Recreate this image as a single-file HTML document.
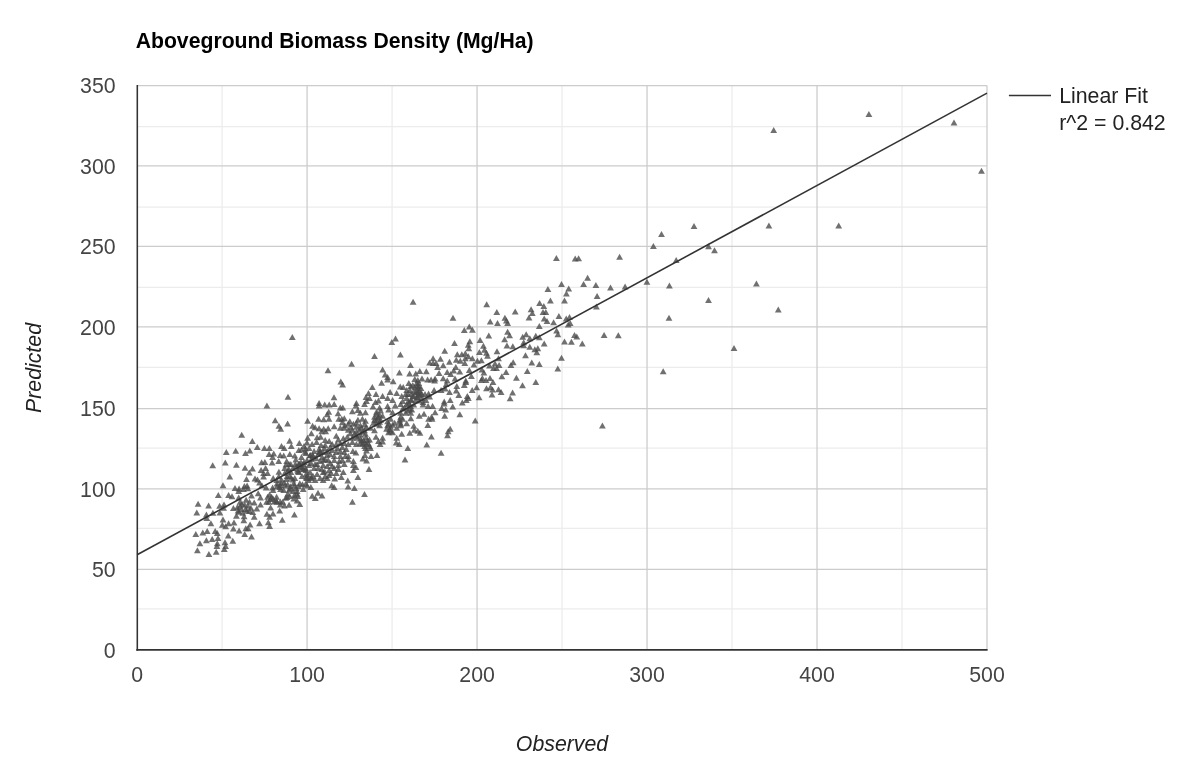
<!DOCTYPE html>
<html><head><meta charset="utf-8"><title>chart</title>
<style>
html,body{margin:0;padding:0;background:#fff;}
body{width:1200px;height:775px;position:relative;overflow:hidden;font-family:"Liberation Sans",sans-serif;color:#444;}
svg{position:absolute;left:0;top:0;}
.title{position:absolute;left:135.7px;top:28.5px;font-size:21.2px;font-weight:bold;color:#000;line-height:24px;white-space:nowrap;}
.yl{position:absolute;left:39.6px;width:76px;text-align:right;font-size:21.3px;line-height:24px;color:#444;}
.xl{position:absolute;top:663px;width:80px;text-align:center;font-size:21.3px;line-height:24px;color:#444;}
.xt{position:absolute;left:462px;top:732px;width:200px;text-align:center;font-size:21.3px;line-height:24px;font-style:italic;color:#222;}
.yt{position:absolute;left:-66px;top:355.5px;width:200px;text-align:center;font-size:21.3px;line-height:24px;font-style:italic;color:#222;transform:rotate(-90deg);}
.lg{position:absolute;left:1059.2px;top:83.2px;font-size:21.3px;line-height:27px;color:#222;white-space:nowrap;}
</style></head><body>
<svg width="1200" height="775" viewBox="0 0 1200 775">
<line x1="222.09" y1="85.56" x2="222.09" y2="649.83" stroke="#ececec" stroke-width="1.3"/>
<line x1="392.07" y1="85.56" x2="392.07" y2="649.83" stroke="#ececec" stroke-width="1.3"/>
<line x1="562.05" y1="85.56" x2="562.05" y2="649.83" stroke="#ececec" stroke-width="1.3"/>
<line x1="732.03" y1="85.56" x2="732.03" y2="649.83" stroke="#ececec" stroke-width="1.3"/>
<line x1="902.01" y1="85.56" x2="902.01" y2="649.83" stroke="#ececec" stroke-width="1.3"/>
<line x1="137.1" y1="126.60" x2="987.0" y2="126.60" stroke="#ececec" stroke-width="1.3"/>
<line x1="137.1" y1="207.10" x2="987.0" y2="207.10" stroke="#ececec" stroke-width="1.3"/>
<line x1="137.1" y1="287.30" x2="987.0" y2="287.30" stroke="#ececec" stroke-width="1.3"/>
<line x1="137.1" y1="367.40" x2="987.0" y2="367.40" stroke="#ececec" stroke-width="1.3"/>
<line x1="137.1" y1="448.10" x2="987.0" y2="448.10" stroke="#ececec" stroke-width="1.3"/>
<line x1="137.1" y1="528.40" x2="987.0" y2="528.40" stroke="#ececec" stroke-width="1.3"/>
<line x1="137.1" y1="608.90" x2="987.0" y2="608.90" stroke="#ececec" stroke-width="1.3"/>
<line x1="307.08" y1="85.56" x2="307.08" y2="649.83" stroke="#cccccc" stroke-width="1.3"/>
<line x1="477.06" y1="85.56" x2="477.06" y2="649.83" stroke="#cccccc" stroke-width="1.3"/>
<line x1="647.04" y1="85.56" x2="647.04" y2="649.83" stroke="#cccccc" stroke-width="1.3"/>
<line x1="817.02" y1="85.56" x2="817.02" y2="649.83" stroke="#cccccc" stroke-width="1.3"/>
<line x1="987.00" y1="85.56" x2="987.00" y2="649.83" stroke="#cccccc" stroke-width="1.3"/>
<line x1="137.1" y1="569.40" x2="987.0" y2="569.40" stroke="#cccccc" stroke-width="1.3"/>
<line x1="137.1" y1="488.92" x2="987.0" y2="488.92" stroke="#cccccc" stroke-width="1.3"/>
<line x1="137.1" y1="408.60" x2="987.0" y2="408.60" stroke="#cccccc" stroke-width="1.3"/>
<line x1="137.1" y1="326.85" x2="987.0" y2="326.85" stroke="#cccccc" stroke-width="1.3"/>
<line x1="137.1" y1="246.42" x2="987.0" y2="246.42" stroke="#cccccc" stroke-width="1.3"/>
<line x1="137.1" y1="165.92" x2="987.0" y2="165.92" stroke="#cccccc" stroke-width="1.3"/>
<line x1="137.1" y1="85.56" x2="987.0" y2="85.56" stroke="#cccccc" stroke-width="1.3"/>
<g fill="#4a4a4a" fill-opacity="0.79"><path d="M194.7 506.7L198.1 500.7L201.5 506.7Z"/><path d="M205.2 508.5L208.6 502.5L212.0 508.5Z"/><path d="M193.4 515.5L196.8 509.5L200.2 515.5Z"/><path d="M214.9 498.0L218.3 492.0L221.7 498.0Z"/><path d="M219.6 488.2L223.0 482.2L226.4 488.2Z"/><path d="M225.2 498.0L228.6 492.0L232.0 498.0Z"/><path d="M216.2 508.8L219.6 502.8L223.0 508.8Z"/><path d="M220.6 507.4L224.0 501.4L227.4 507.4Z"/><path d="M220.2 510.8L223.6 504.8L227.0 510.8Z"/><path d="M209.5 515.7L212.9 509.7L216.3 515.7Z"/><path d="M216.5 515.5L219.9 509.5L223.3 515.5Z"/><path d="M203.0 517.5L206.4 511.5L209.8 517.5Z"/><path d="M203.4 521.1L206.8 515.1L210.2 521.1Z"/><path d="M207.5 526.2L210.9 520.2L214.3 526.2Z"/><path d="M219.6 522.5L223.0 516.5L226.4 522.5Z"/><path d="M218.9 527.8L222.3 521.8L225.7 527.8Z"/><path d="M222.2 529.3L225.6 523.3L229.0 529.3Z"/><path d="M225.2 526.2L228.6 520.2L232.0 526.2Z"/><path d="M241.3 536.9L244.7 530.9L248.1 536.9Z"/><path d="M248.1 539.6L251.5 533.6L254.9 539.6Z"/><path d="M192.4 536.9L195.8 530.9L199.2 536.9Z"/><path d="M199.4 535.6L202.8 529.6L206.2 535.6Z"/><path d="M203.8 534.0L207.2 528.0L210.6 534.0Z"/><path d="M211.8 534.0L215.2 528.0L218.6 534.0Z"/><path d="M213.9 535.9L217.3 529.9L220.7 535.9Z"/><path d="M214.6 541.0L218.0 535.0L221.4 541.0Z"/><path d="M208.8 542.0L212.2 536.0L215.6 542.0Z"/><path d="M203.0 543.3L206.4 537.3L209.8 543.3Z"/><path d="M196.5 546.3L199.9 540.3L203.3 546.3Z"/><path d="M194.0 553.3L197.4 547.3L200.8 553.3Z"/><path d="M205.5 557.1L208.9 551.1L212.3 557.1Z"/><path d="M212.8 554.7L216.2 548.7L219.6 554.7Z"/><path d="M213.9 546.3L217.3 540.3L220.7 546.3Z"/><path d="M213.5 549.0L216.9 543.0L220.3 549.0Z"/><path d="M221.6 545.3L225.0 539.3L228.4 545.3Z"/><path d="M222.2 549.0L225.6 543.0L229.0 549.0Z"/><path d="M220.9 552.0L224.3 546.0L227.7 552.0Z"/><path d="M224.9 538.6L228.3 532.6L231.7 538.6Z"/><path d="M229.4 543.7L232.8 537.7L236.2 543.7Z"/><path d="M307.5 490.0L310.9 484.0L314.3 490.0Z"/><path d="M308.8 498.7L312.2 492.7L315.6 498.7Z"/><path d="M311.9 501.1L315.3 495.1L318.7 501.1Z"/><path d="M314.6 495.7L318.0 489.7L321.4 495.7Z"/><path d="M318.6 498.4L322.0 492.4L325.4 498.4Z"/><path d="M328.3 488.2L331.7 482.2L335.1 488.2Z"/><path d="M330.7 490.0L334.1 484.0L337.5 490.0Z"/><path d="M231.6 491.1L235.0 485.1L238.4 491.1Z"/><path d="M235.7 491.4L239.1 485.4L242.5 491.4Z"/><path d="M241.0 489.1L244.4 483.1L247.8 489.1Z"/><path d="M243.7 488.6L247.1 482.6L250.5 488.6Z"/><path d="M244.4 491.3L247.8 485.3L251.2 491.3Z"/><path d="M240.0 492.0L243.4 486.0L246.8 492.0Z"/><path d="M235.3 494.0L238.7 488.0L242.1 494.0Z"/><path d="M256.1 485.6L259.5 479.6L262.9 485.6Z"/><path d="M258.5 488.3L261.9 482.3L265.3 488.3Z"/><path d="M262.8 490.6L266.2 484.6L269.6 490.6Z"/><path d="M269.2 490.6L272.6 484.6L276.0 490.6Z"/><path d="M269.6 493.0L273.0 487.0L276.4 493.0Z"/><path d="M273.6 486.6L277.0 480.6L280.4 486.6Z"/><path d="M276.9 488.0L280.3 482.0L283.7 488.0Z"/><path d="M276.3 490.0L279.7 484.0L283.1 490.0Z"/><path d="M280.3 493.0L283.7 487.0L287.1 493.0Z"/><path d="M284.3 487.3L287.7 481.3L291.1 487.3Z"/><path d="M285.7 492.7L289.1 486.7L292.5 492.7Z"/><path d="M292.7 491.0L296.1 485.0L299.5 491.0Z"/><path d="M293.7 494.0L297.1 488.0L300.5 494.0Z"/><path d="M299.8 492.0L303.2 486.0L306.6 492.0Z"/><path d="M290.4 485.9L293.8 479.9L297.2 485.9Z"/><path d="M296.4 486.3L299.8 480.3L303.2 486.3Z"/><path d="M302.4 486.6L305.8 480.6L309.2 486.6Z"/><path d="M228.6 499.2L232.0 493.2L235.4 499.2Z"/><path d="M235.3 500.5L238.7 494.5L242.1 500.5Z"/><path d="M248.1 498.4L251.5 492.4L254.9 498.4Z"/><path d="M254.8 496.3L258.2 490.3L261.6 496.3Z"/><path d="M257.1 500.5L260.5 494.5L263.9 500.5Z"/><path d="M242.7 502.7L246.1 496.7L249.5 502.7Z"/><path d="M236.7 504.7L240.1 498.7L243.5 504.7Z"/><path d="M266.2 497.4L269.6 491.4L273.0 497.4Z"/><path d="M264.2 499.7L267.6 493.7L271.0 499.7Z"/><path d="M268.2 499.7L271.6 493.7L275.0 499.7Z"/><path d="M273.2 499.8L276.6 493.8L280.0 499.8Z"/><path d="M263.2 504.7L266.6 498.7L270.0 504.7Z"/><path d="M270.9 504.4L274.3 498.4L277.7 504.4Z"/><path d="M276.9 504.5L280.3 498.5L283.7 504.5Z"/><path d="M276.9 507.4L280.3 501.4L283.7 507.4Z"/><path d="M284.3 496.7L287.7 490.7L291.1 496.7Z"/><path d="M282.3 500.7L285.7 494.7L289.1 500.7Z"/><path d="M286.3 499.0L289.7 493.0L293.1 499.0Z"/><path d="M291.0 498.0L294.4 492.0L297.8 498.0Z"/><path d="M294.4 499.0L297.8 493.0L301.2 499.0Z"/><path d="M290.4 501.4L293.8 495.4L297.2 501.4Z"/><path d="M293.7 503.4L297.1 497.4L300.5 503.4Z"/><path d="M296.4 507.1L299.8 501.1L303.2 507.1Z"/><path d="M285.7 507.8L289.1 501.8L292.5 507.8Z"/><path d="M281.0 508.4L284.4 502.4L287.8 508.4Z"/><path d="M250.8 505.5L254.2 499.5L257.6 505.5Z"/><path d="M257.1 507.4L260.5 501.4L263.9 507.4Z"/><path d="M244.7 508.8L248.1 502.8L251.5 508.8Z"/><path d="M253.4 511.4L256.8 505.4L260.2 511.4Z"/><path d="M267.2 510.4L270.6 504.4L274.0 510.4Z"/><path d="M276.3 513.6L279.7 507.6L283.1 513.6Z"/><path d="M291.0 517.5L294.4 511.5L297.8 517.5Z"/><path d="M278.9 522.7L282.3 516.7L285.7 522.7Z"/><path d="M230.0 511.1L233.4 505.1L236.8 511.1Z"/><path d="M234.0 510.1L237.4 504.1L240.8 510.1Z"/><path d="M238.0 512.1L241.4 506.1L244.8 512.1Z"/><path d="M235.3 514.8L238.7 508.8L242.1 514.8Z"/><path d="M243.4 513.8L246.8 507.8L250.2 513.8Z"/><path d="M249.4 515.1L252.8 509.1L256.2 515.1Z"/><path d="M239.4 515.8L242.8 509.8L246.2 515.8Z"/><path d="M233.0 518.8L236.4 512.8L239.8 518.8Z"/><path d="M240.7 519.2L244.1 513.2L247.5 519.2Z"/><path d="M240.4 523.2L243.8 517.2L247.2 523.2Z"/><path d="M250.8 519.8L254.2 513.8L257.6 519.8Z"/><path d="M263.5 516.8L266.9 510.8L270.3 516.8Z"/><path d="M269.6 516.6L273.0 510.6L276.4 516.6Z"/><path d="M266.2 519.8L269.6 513.8L273.0 519.8Z"/><path d="M264.9 525.2L268.3 519.2L271.7 525.2Z"/><path d="M266.2 528.9L269.6 522.9L273.0 528.9Z"/><path d="M256.1 526.2L259.5 520.2L262.9 526.2Z"/><path d="M246.7 527.6L250.1 521.6L253.5 527.6Z"/><path d="M230.6 525.5L234.0 519.5L237.4 525.5Z"/><path d="M230.0 531.6L233.4 525.6L236.8 531.6Z"/><path d="M235.7 533.6L239.1 527.6L242.5 533.6Z"/><path d="M242.4 531.2L245.8 525.2L249.2 531.2Z"/><path d="M244.7 531.2L248.1 525.2L251.5 531.2Z"/><path d="M238.7 506.7L242.1 500.7L245.5 506.7Z"/><path d="M241.4 507.8L244.8 501.8L248.2 507.8Z"/><path d="M246.1 504.7L249.5 498.7L252.9 504.7Z"/><path d="M247.4 510.8L250.8 504.8L254.2 510.8Z"/><path d="M236.7 508.8L240.1 502.8L243.5 508.8Z"/><path d="M242.0 512.1L245.4 506.1L248.8 512.1Z"/><path d="M246.1 514.1L249.5 508.1L252.9 514.1Z"/><path d="M234.7 513.5L238.1 507.5L241.5 513.5Z"/><path d="M266.9 502.0L270.3 496.0L273.7 502.0Z"/><path d="M272.9 503.4L276.3 497.4L279.7 503.4Z"/><path d="M265.5 504.7L268.9 498.7L272.3 504.7Z"/><path d="M269.6 501.4L273.0 495.4L276.4 501.4Z"/><path d="M273.6 504.7L277.0 498.7L280.4 504.7Z"/><path d="M273.6 489.3L277.0 483.3L280.4 489.3Z"/><path d="M277.6 485.9L281.0 479.9L284.4 485.9Z"/><path d="M281.6 488.6L285.0 482.6L288.4 488.6Z"/><path d="M287.0 489.3L290.4 483.3L293.8 489.3Z"/><path d="M291.0 488.6L294.4 482.6L297.8 488.6Z"/><path d="M295.1 489.3L298.5 483.3L301.9 489.3Z"/><path d="M299.1 487.3L302.5 481.3L305.9 487.3Z"/><path d="M303.8 488.6L307.2 482.6L310.6 488.6Z"/><path d="M287.0 491.3L290.4 485.3L293.8 491.3Z"/><path d="M289.7 494.0L293.1 488.0L296.5 494.0Z"/><path d="M293.7 496.7L297.1 490.7L300.5 496.7Z"/><path d="M283.6 500.0L287.0 494.0L290.4 500.0Z"/><path d="M263.5 408.4L266.9 402.4L270.3 408.4Z"/><path d="M271.8 423.2L275.2 417.2L278.6 423.2Z"/><path d="M284.2 426.4L287.6 420.4L291.0 426.4Z"/><path d="M275.5 428.8L278.9 422.8L282.3 428.8Z"/><path d="M277.3 431.8L280.7 425.8L284.1 431.8Z"/><path d="M238.3 437.8L241.7 431.8L245.1 437.8Z"/><path d="M248.9 444.1L252.3 438.1L255.7 444.1Z"/><path d="M286.2 443.7L289.6 437.7L293.0 443.7Z"/><path d="M253.9 449.9L257.3 443.9L260.7 449.9Z"/><path d="M261.0 450.9L264.4 444.9L267.8 450.9Z"/><path d="M266.0 451.1L269.4 445.1L272.8 451.1Z"/><path d="M278.1 449.1L281.5 443.1L284.9 449.1Z"/><path d="M280.8 450.9L284.2 444.9L287.6 450.9Z"/><path d="M287.9 448.9L291.3 442.9L294.7 448.9Z"/><path d="M222.9 455.1L226.3 449.1L229.7 455.1Z"/><path d="M232.3 453.7L235.7 447.7L239.1 453.7Z"/><path d="M246.4 453.4L249.8 447.4L253.2 453.4Z"/><path d="M242.1 456.1L245.5 450.1L248.9 456.1Z"/><path d="M209.3 468.3L212.7 462.3L216.1 468.3Z"/><path d="M221.9 465.5L225.3 459.5L228.7 465.5Z"/><path d="M233.0 467.8L236.4 461.8L239.8 467.8Z"/><path d="M241.6 470.7L245.0 464.7L248.4 470.7Z"/><path d="M249.1 471.4L252.5 465.4L255.9 471.4Z"/><path d="M245.9 475.6L249.3 469.6L252.7 475.6Z"/><path d="M226.4 479.6L229.8 473.6L233.2 479.6Z"/><path d="M265.7 457.0L269.1 451.0L272.5 457.0Z"/><path d="M270.3 456.4L273.7 450.4L277.1 456.4Z"/><path d="M269.2 460.0L272.6 454.0L276.0 460.0Z"/><path d="M276.8 458.0L280.2 452.0L283.6 458.0Z"/><path d="M280.3 458.5L283.7 452.5L287.1 458.5Z"/><path d="M286.4 457.0L289.8 451.0L293.2 457.0Z"/><path d="M291.4 458.5L294.8 452.5L298.2 458.5Z"/><path d="M295.4 452.9L298.8 446.9L302.2 452.9Z"/><path d="M258.2 465.3L261.6 459.3L265.0 465.3Z"/><path d="M261.5 465.0L264.9 459.0L268.3 465.0Z"/><path d="M268.7 465.5L272.1 459.5L275.5 465.5Z"/><path d="M275.3 464.0L278.7 458.0L282.1 464.0Z"/><path d="M283.3 464.0L286.7 458.0L290.1 464.0Z"/><path d="M287.4 467.0L290.8 461.0L294.2 467.0Z"/><path d="M292.4 462.5L295.8 456.5L299.2 462.5Z"/><path d="M257.7 473.1L261.1 467.1L264.5 473.1Z"/><path d="M262.2 471.1L265.6 465.1L269.0 471.1Z"/><path d="M260.2 476.1L263.6 470.1L267.0 476.1Z"/><path d="M264.2 476.1L267.6 470.1L271.0 476.1Z"/><path d="M260.2 479.6L263.6 473.6L267.0 479.6Z"/><path d="M243.1 482.1L246.5 476.1L249.9 482.1Z"/><path d="M251.6 481.6L255.0 475.6L258.4 481.6Z"/><path d="M254.1 482.6L257.5 476.6L260.9 482.6Z"/><path d="M269.8 481.1L273.2 475.1L276.6 481.1Z"/><path d="M273.3 483.1L276.7 477.1L280.1 483.1Z"/><path d="M281.3 471.1L284.7 465.1L288.1 471.1Z"/><path d="M285.4 472.1L288.8 466.1L292.2 472.1Z"/><path d="M289.4 471.1L292.8 465.1L296.2 471.1Z"/><path d="M281.3 476.1L284.7 470.1L288.1 476.1Z"/><path d="M286.4 479.1L289.8 473.1L293.2 479.1Z"/><path d="M291.4 481.1L294.8 475.1L298.2 481.1Z"/><path d="M283.3 482.1L286.7 476.1L290.1 482.1Z"/><path d="M295.4 467.0L298.8 461.0L302.2 467.0Z"/><path d="M295.4 475.1L298.8 469.1L302.2 475.1Z"/><path d="M295.9 445.9L299.3 439.9L302.7 445.9Z"/><path d="M315.7 408.6L319.1 402.6L322.5 408.6Z"/><path d="M321.3 407.6L324.7 401.6L328.1 407.6Z"/><path d="M325.8 407.6L329.2 401.6L332.6 407.6Z"/><path d="M330.8 407.1L334.2 401.1L337.6 407.1Z"/><path d="M336.9 410.6L340.3 404.6L343.7 410.6Z"/><path d="M339.4 410.6L342.8 404.6L346.2 410.6Z"/><path d="M352.5 408.6L355.9 402.6L359.3 408.6Z"/><path d="M361.1 407.1L364.5 401.1L367.9 407.1Z"/><path d="M369.6 409.6L373.0 403.6L376.4 409.6Z"/><path d="M376.2 410.6L379.6 404.6L383.0 410.6Z"/><path d="M384.2 409.1L387.6 403.1L391.0 409.1Z"/><path d="M391.8 408.6L395.2 402.6L398.6 408.6Z"/><path d="M397.3 407.1L400.7 401.1L404.1 407.1Z"/><path d="M403.3 407.1L406.7 401.1L410.1 407.1Z"/><path d="M410.4 407.6L413.8 401.6L417.2 407.6Z"/><path d="M325.3 414.7L328.7 408.7L332.1 414.7Z"/><path d="M323.8 417.2L327.2 411.2L330.6 417.2Z"/><path d="M334.7 416.2L338.1 410.2L341.5 416.2Z"/><path d="M349.0 414.2L352.4 408.2L355.8 414.2Z"/><path d="M354.5 413.1L357.9 407.1L361.3 413.1Z"/><path d="M357.0 415.7L360.4 409.7L363.8 415.7Z"/><path d="M362.1 415.2L365.5 409.2L368.9 415.2Z"/><path d="M373.1 414.7L376.5 408.7L379.9 414.7Z"/><path d="M377.2 413.6L380.6 407.6L384.0 413.6Z"/><path d="M385.2 412.6L388.6 406.6L392.0 412.6Z"/><path d="M389.2 415.2L392.6 409.2L396.0 415.2Z"/><path d="M399.3 411.6L402.7 405.6L406.1 411.6Z"/><path d="M404.4 413.6L407.8 407.6L411.2 413.6Z"/><path d="M408.4 412.6L411.8 406.6L415.2 412.6Z"/><path d="M415.9 418.7L419.3 412.7L422.7 418.7Z"/><path d="M304.2 423.7L307.6 417.7L311.0 423.7Z"/><path d="M315.2 421.7L318.6 415.7L322.0 421.7Z"/><path d="M320.3 422.2L323.7 416.2L327.1 422.2Z"/><path d="M325.6 421.7L329.0 415.7L332.4 421.7Z"/><path d="M335.4 421.7L338.8 415.7L342.2 421.7Z"/><path d="M338.4 421.7L341.8 415.7L345.2 421.7Z"/><path d="M340.9 421.2L344.3 415.2L347.7 421.2Z"/><path d="M346.4 424.2L349.8 418.2L353.2 424.2Z"/><path d="M338.9 425.2L342.3 419.2L345.7 425.2Z"/><path d="M354.5 422.7L357.9 416.7L361.3 422.7Z"/><path d="M359.0 421.7L362.4 415.7L365.8 421.7Z"/><path d="M362.1 423.7L365.5 417.7L368.9 423.7Z"/><path d="M371.1 419.7L374.5 413.7L377.9 419.7Z"/><path d="M375.1 419.7L378.5 413.7L381.9 419.7Z"/><path d="M373.1 423.2L376.5 417.2L379.9 423.2Z"/><path d="M377.2 422.7L380.6 416.7L384.0 422.7Z"/><path d="M384.2 424.2L387.6 418.2L391.0 424.2Z"/><path d="M387.2 421.7L390.6 415.7L394.0 421.7Z"/><path d="M397.3 419.7L400.7 413.7L404.1 419.7Z"/><path d="M399.3 421.7L402.7 415.7L406.1 421.7Z"/><path d="M407.4 421.2L410.8 415.2L414.2 421.2Z"/><path d="M396.3 424.7L399.7 418.7L403.1 424.7Z"/><path d="M403.3 426.2L406.7 420.2L410.1 426.2Z"/><path d="M370.1 425.7L373.5 419.7L376.9 425.7Z"/><path d="M309.2 428.8L312.6 422.8L316.0 428.8Z"/><path d="M311.7 430.3L315.1 424.3L318.5 430.3Z"/><path d="M315.7 431.3L319.1 425.3L322.5 431.3Z"/><path d="M320.3 431.8L323.7 425.8L327.1 431.8Z"/><path d="M322.3 434.3L325.7 428.3L329.1 434.3Z"/><path d="M318.3 434.3L321.7 428.3L325.1 434.3Z"/><path d="M324.8 431.3L328.2 425.3L331.6 431.3Z"/><path d="M330.8 429.3L334.2 423.3L337.6 429.3Z"/><path d="M336.9 430.8L340.3 424.8L343.7 430.8Z"/><path d="M341.4 428.3L344.8 422.3L348.2 428.3Z"/><path d="M340.9 430.8L344.3 424.8L347.7 430.8Z"/><path d="M347.5 430.3L350.9 424.3L354.3 430.3Z"/><path d="M353.0 429.8L356.4 423.8L359.8 429.8Z"/><path d="M357.0 428.3L360.4 422.3L363.8 428.3Z"/><path d="M361.1 427.2L364.5 421.2L367.9 427.2Z"/><path d="M363.1 429.8L366.5 423.8L369.9 429.8Z"/><path d="M356.0 432.8L359.4 426.8L362.8 432.8Z"/><path d="M361.1 433.3L364.5 427.3L367.9 433.3Z"/><path d="M367.1 430.8L370.5 424.8L373.9 430.8Z"/><path d="M371.1 433.3L374.5 427.3L377.9 433.3Z"/><path d="M376.2 428.3L379.6 422.3L383.0 428.3Z"/><path d="M384.2 428.3L387.6 422.3L391.0 428.3Z"/><path d="M389.2 427.7L392.6 421.7L396.0 427.7Z"/><path d="M393.3 430.8L396.7 424.8L400.1 430.8Z"/><path d="M397.3 428.3L400.7 422.3L404.1 428.3Z"/><path d="M386.2 432.3L389.6 426.3L393.0 432.3Z"/><path d="M385.2 435.3L388.6 429.3L392.0 435.3Z"/><path d="M389.2 435.3L392.6 429.3L396.0 435.3Z"/><path d="M410.4 428.8L413.8 422.8L417.2 428.8Z"/><path d="M410.9 432.8L414.3 426.8L417.7 432.8Z"/><path d="M414.4 433.8L417.8 427.8L421.2 433.8Z"/><path d="M406.4 435.8L409.8 429.8L413.2 435.8Z"/><path d="M398.3 436.8L401.7 430.8L405.1 436.8Z"/><path d="M308.0 436.3L311.4 430.3L314.8 436.3Z"/><path d="M304.2 440.8L307.6 434.8L311.0 440.8Z"/><path d="M313.7 440.3L317.1 434.3L320.5 440.3Z"/><path d="M317.2 439.8L320.6 433.8L324.0 439.8Z"/><path d="M321.8 442.9L325.2 436.9L328.6 442.9Z"/><path d="M325.8 443.9L329.2 437.9L332.6 443.9Z"/><path d="M332.9 438.8L336.3 432.8L339.7 438.8Z"/><path d="M334.9 442.4L338.3 436.4L341.7 442.4Z"/><path d="M339.9 441.3L343.3 435.3L346.7 441.3Z"/><path d="M347.0 436.3L350.4 430.3L353.8 436.3Z"/><path d="M351.0 436.8L354.4 430.8L357.8 436.8Z"/><path d="M354.0 440.8L357.4 434.8L360.8 440.8Z"/><path d="M357.0 437.8L360.4 431.8L363.8 437.8Z"/><path d="M362.6 440.3L366.0 434.3L369.4 440.3Z"/><path d="M366.1 442.4L369.5 436.4L372.9 442.4Z"/><path d="M372.6 439.8L376.0 433.8L379.4 439.8Z"/><path d="M379.2 440.8L382.6 434.8L386.0 440.8Z"/><path d="M375.1 443.9L378.5 437.9L381.9 443.9Z"/><path d="M379.2 444.4L382.6 438.4L386.0 444.4Z"/><path d="M376.7 446.9L380.1 440.9L383.5 446.9Z"/><path d="M393.3 440.8L396.7 434.8L400.1 440.8Z"/><path d="M392.8 445.4L396.2 439.4L399.6 445.4Z"/><path d="M395.8 446.9L399.2 440.9L402.6 446.9Z"/><path d="M303.6 445.4L307.0 439.4L310.4 445.4Z"/><path d="M308.7 446.9L312.1 440.9L315.5 446.9Z"/><path d="M313.2 444.9L316.6 438.9L320.0 444.9Z"/><path d="M317.7 447.9L321.1 441.9L324.5 447.9Z"/><path d="M321.8 447.9L325.2 441.9L328.6 447.9Z"/><path d="M328.8 446.9L332.2 440.9L335.6 446.9Z"/><path d="M332.9 446.9L336.3 440.9L339.7 446.9Z"/><path d="M336.9 445.9L340.3 439.9L343.7 445.9Z"/><path d="M340.9 445.9L344.3 439.9L347.7 445.9Z"/><path d="M344.9 446.9L348.3 440.9L351.7 446.9Z"/><path d="M349.0 444.9L352.4 438.9L355.8 444.9Z"/><path d="M353.0 446.9L356.4 440.9L359.8 446.9Z"/><path d="M357.0 445.9L360.4 439.9L363.8 445.9Z"/><path d="M361.1 444.9L364.5 438.9L367.9 444.9Z"/><path d="M365.1 446.4L368.5 440.4L371.9 446.4Z"/><path d="M361.1 448.9L364.5 442.9L367.9 448.9Z"/><path d="M367.1 450.9L370.5 444.9L373.9 450.9Z"/><path d="M404.4 450.9L407.8 444.9L411.2 450.9Z"/><path d="M298.1 452.4L301.5 446.4L304.9 452.4Z"/><path d="M310.7 453.9L314.1 447.9L317.5 453.9Z"/><path d="M306.7 458.0L310.1 452.0L313.5 458.0Z"/><path d="M315.7 451.9L319.1 445.9L322.5 451.9Z"/><path d="M319.8 454.9L323.2 448.9L326.6 454.9Z"/><path d="M323.8 458.0L327.2 452.0L330.6 458.0Z"/><path d="M328.8 452.9L332.2 446.9L335.6 452.9Z"/><path d="M332.9 454.9L336.3 448.9L339.7 454.9Z"/><path d="M336.9 453.9L340.3 447.9L343.7 453.9Z"/><path d="M340.9 454.9L344.3 448.9L347.7 454.9Z"/><path d="M344.9 459.0L348.3 453.0L351.7 459.0Z"/><path d="M336.9 459.0L340.3 453.0L343.7 459.0Z"/><path d="M330.8 459.0L334.2 453.0L337.6 459.0Z"/><path d="M349.5 453.9L352.9 447.9L356.3 453.9Z"/><path d="M352.5 455.4L355.9 449.4L359.3 455.4Z"/><path d="M363.1 453.4L366.5 447.4L369.9 453.4Z"/><path d="M361.6 458.0L365.0 452.0L368.4 458.0Z"/><path d="M367.6 459.0L371.0 453.0L374.4 459.0Z"/><path d="M373.6 458.0L377.0 452.0L380.4 458.0Z"/><path d="M359.5 461.5L362.9 455.5L366.3 461.5Z"/><path d="M363.1 463.5L366.5 457.5L369.9 463.5Z"/><path d="M401.6 462.5L405.0 456.5L408.4 462.5Z"/><path d="M298.1 460.0L301.5 454.0L304.9 460.0Z"/><path d="M303.6 463.0L307.0 457.0L310.4 463.0Z"/><path d="M307.7 466.0L311.1 460.0L314.5 466.0Z"/><path d="M312.7 461.0L316.1 455.0L319.5 461.0Z"/><path d="M316.7 464.0L320.1 458.0L323.5 464.0Z"/><path d="M321.8 462.0L325.2 456.0L328.6 462.0Z"/><path d="M326.8 466.0L330.2 460.0L333.6 466.0Z"/><path d="M330.8 463.0L334.2 457.0L337.6 463.0Z"/><path d="M335.9 464.0L339.3 458.0L342.7 464.0Z"/><path d="M340.9 467.0L344.3 461.0L347.7 467.0Z"/><path d="M344.9 462.5L348.3 456.5L351.7 462.5Z"/><path d="M350.0 464.0L353.4 458.0L356.8 464.0Z"/><path d="M350.0 468.0L353.4 462.0L356.8 468.0Z"/><path d="M352.5 470.0L355.9 464.0L359.3 470.0Z"/><path d="M298.6 470.0L302.0 464.0L305.4 470.0Z"/><path d="M302.6 473.1L306.0 467.1L309.4 473.1Z"/><path d="M306.7 475.1L310.1 469.1L313.5 475.1Z"/><path d="M310.7 471.1L314.1 465.1L317.5 471.1Z"/><path d="M318.3 472.1L321.7 466.1L325.1 472.1Z"/><path d="M319.8 475.1L323.2 469.1L326.6 475.1Z"/><path d="M325.8 473.1L329.2 467.1L332.6 473.1Z"/><path d="M330.8 471.1L334.2 465.1L337.6 471.1Z"/><path d="M332.9 476.1L336.3 470.1L339.7 476.1Z"/><path d="M339.9 475.1L343.3 469.1L346.7 475.1Z"/><path d="M350.0 473.1L353.4 467.1L356.8 473.1Z"/><path d="M365.6 472.1L369.0 466.1L372.4 472.1Z"/><path d="M298.6 479.1L302.0 473.1L305.4 479.1Z"/><path d="M303.6 481.1L307.0 475.1L310.4 481.1Z"/><path d="M309.7 479.1L313.1 473.1L316.5 479.1Z"/><path d="M311.7 483.1L315.1 477.1L318.5 483.1Z"/><path d="M321.8 479.1L325.2 473.1L328.6 479.1Z"/><path d="M325.8 478.1L329.2 472.1L332.6 478.1Z"/><path d="M319.8 483.1L323.2 477.1L326.6 483.1Z"/><path d="M331.3 481.6L334.7 475.6L338.1 481.6Z"/><path d="M337.9 480.1L341.3 474.1L344.7 480.1Z"/><path d="M344.4 483.6L347.8 477.6L351.2 483.6Z"/><path d="M354.5 479.9L357.9 473.9L361.3 479.9Z"/><path d="M344.7 489.6L348.1 483.6L351.5 489.6Z"/><path d="M351.0 491.1L354.4 485.1L357.8 491.1Z"/><path d="M361.1 496.9L364.5 490.9L367.9 496.9Z"/><path d="M349.0 504.7L352.4 498.7L355.8 504.7Z"/><path d="M392.1 341.5L395.5 335.5L398.9 341.5Z"/><path d="M388.4 344.9L391.8 338.9L395.2 344.9Z"/><path d="M371.1 359.1L374.5 353.1L377.9 359.1Z"/><path d="M397.0 357.6L400.4 351.6L403.8 357.6Z"/><path d="M348.2 366.7L351.6 360.7L355.0 366.7Z"/><path d="M407.1 368.1L410.5 362.1L413.9 368.1Z"/><path d="M324.6 373.2L328.0 367.2L331.4 373.2Z"/><path d="M379.2 372.6L382.6 366.6L386.0 372.6Z"/><path d="M381.7 377.4L385.1 371.4L388.5 377.4Z"/><path d="M384.2 380.0L387.6 374.0L391.0 380.0Z"/><path d="M384.2 382.5L387.6 376.5L391.0 382.5Z"/><path d="M396.0 375.6L399.4 369.6L402.8 375.6Z"/><path d="M406.2 376.4L409.6 370.4L413.0 376.4Z"/><path d="M412.4 376.4L415.8 370.4L419.2 376.4Z"/><path d="M416.4 373.9L419.8 367.9L423.2 373.9Z"/><path d="M389.8 384.3L393.2 378.3L396.6 384.3Z"/><path d="M378.2 385.8L381.6 379.8L385.0 385.8Z"/><path d="M337.4 384.5L340.8 378.5L344.2 384.5Z"/><path d="M339.2 387.5L342.6 381.5L346.0 387.5Z"/><path d="M368.9 390.0L372.3 384.0L375.7 390.0Z"/><path d="M396.8 389.5L400.2 383.5L403.6 389.5Z"/><path d="M399.8 390.0L403.2 384.0L406.6 390.0Z"/><path d="M407.4 389.0L410.8 383.0L414.2 389.0Z"/><path d="M411.4 382.0L414.8 376.0L418.2 382.0Z"/><path d="M414.4 383.0L417.8 377.0L421.2 383.0Z"/><path d="M411.4 390.0L414.8 384.0L418.2 390.0Z"/><path d="M415.4 389.0L418.8 383.0L422.2 389.0Z"/><path d="M330.6 400.3L334.0 394.3L337.4 400.3Z"/><path d="M365.1 395.9L368.5 389.9L371.9 395.9Z"/><path d="M362.6 400.1L366.0 394.1L369.4 400.1Z"/><path d="M366.1 401.1L369.5 395.1L372.9 401.1Z"/><path d="M372.6 397.1L376.0 391.1L379.4 397.1Z"/><path d="M379.2 399.1L382.6 393.1L386.0 399.1Z"/><path d="M386.7 395.1L390.1 389.1L393.5 395.1Z"/><path d="M393.3 395.9L396.7 389.9L400.1 395.9Z"/><path d="M384.2 401.1L387.6 395.1L391.0 401.1Z"/><path d="M389.2 403.1L392.6 397.1L396.0 403.1Z"/><path d="M375.1 403.6L378.5 397.6L381.9 403.6Z"/><path d="M372.1 405.1L375.5 399.1L378.9 405.1Z"/><path d="M363.1 404.1L366.5 398.1L369.9 404.1Z"/><path d="M398.3 399.1L401.7 393.1L405.1 399.1Z"/><path d="M402.3 397.1L405.7 391.1L409.1 397.1Z"/><path d="M407.4 397.1L410.8 391.1L414.2 397.1Z"/><path d="M412.4 395.1L415.8 389.1L419.2 395.1Z"/><path d="M415.4 398.1L418.8 392.1L422.2 398.1Z"/><path d="M407.4 403.1L410.8 397.1L414.2 403.1Z"/><path d="M412.4 403.1L415.8 397.1L419.2 403.1Z"/><path d="M399.3 404.1L402.7 398.1L406.1 404.1Z"/><path d="M415.9 403.6L419.3 397.6L422.7 403.6Z"/><path d="M353.0 406.1L356.4 400.1L359.8 406.1Z"/><path d="M315.7 406.1L319.1 400.1L322.5 406.1Z"/><path d="M403.3 393.1L406.7 387.1L410.1 393.1Z"/><path d="M415.4 393.1L418.8 387.1L422.2 393.1Z"/><path d="M460.9 333.1L464.3 327.1L467.7 333.1Z"/><path d="M465.9 329.6L469.3 323.6L472.7 329.6Z"/><path d="M469.0 332.8L472.4 326.8L475.8 332.8Z"/><path d="M535.9 329.1L539.3 323.1L542.7 329.1Z"/><path d="M485.4 338.4L488.8 332.4L492.2 338.4Z"/><path d="M504.2 334.8L507.6 328.8L511.0 334.8Z"/><path d="M506.2 338.2L509.6 332.2L513.0 338.2Z"/><path d="M501.2 342.2L504.6 336.2L508.0 342.2Z"/><path d="M522.8 337.2L526.2 331.2L529.6 337.2Z"/><path d="M519.3 339.7L522.7 333.7L526.1 339.7Z"/><path d="M526.4 341.2L529.8 335.2L533.2 341.2Z"/><path d="M532.4 338.7L535.8 332.7L539.2 338.7Z"/><path d="M535.9 340.2L539.3 334.2L542.7 340.2Z"/><path d="M451.1 345.9L454.5 339.9L457.9 345.9Z"/><path d="M476.7 342.9L480.1 336.9L483.5 342.9Z"/><path d="M466.4 344.2L469.8 338.2L473.2 344.2Z"/><path d="M464.9 347.7L468.3 341.7L471.7 347.7Z"/><path d="M465.4 351.3L468.8 345.3L472.2 351.3Z"/><path d="M480.0 348.7L483.4 342.7L486.8 348.7Z"/><path d="M481.1 352.8L484.5 346.8L487.9 352.8Z"/><path d="M476.0 355.0L479.4 349.0L482.8 355.0Z"/><path d="M483.1 355.8L486.5 349.8L489.9 355.8Z"/><path d="M484.1 358.8L487.5 352.8L490.9 358.8Z"/><path d="M503.5 348.4L506.9 342.4L510.3 348.4Z"/><path d="M509.4 349.2L512.8 343.2L516.2 349.2Z"/><path d="M493.6 354.3L497.0 348.3L500.4 354.3Z"/><path d="M520.3 345.2L523.7 339.2L527.1 345.2Z"/><path d="M520.3 348.2L523.7 342.2L527.1 348.2Z"/><path d="M526.4 349.7L529.8 343.7L533.2 349.7Z"/><path d="M531.4 352.3L534.8 346.3L538.2 352.3Z"/><path d="M534.4 351.3L537.8 345.3L541.2 351.3Z"/><path d="M533.4 355.3L536.8 349.3L540.2 355.3Z"/><path d="M441.3 353.8L444.7 347.8L448.1 353.8Z"/><path d="M453.9 357.3L457.3 351.3L460.7 357.3Z"/><path d="M458.4 357.3L461.8 351.3L465.2 357.3Z"/><path d="M461.9 356.3L465.3 350.3L468.7 356.3Z"/><path d="M464.9 359.3L468.3 353.3L471.7 359.3Z"/><path d="M469.0 361.3L472.4 355.3L475.8 361.3Z"/><path d="M461.9 361.3L465.3 355.3L468.7 361.3Z"/><path d="M452.9 362.8L456.3 356.8L459.7 362.8Z"/><path d="M456.9 363.8L460.3 357.8L463.7 363.8Z"/><path d="M461.4 365.9L464.8 359.9L468.2 365.9Z"/><path d="M474.0 363.8L477.4 357.8L480.8 363.8Z"/><path d="M478.0 363.3L481.4 357.3L484.8 363.3Z"/><path d="M470.5 367.4L473.9 361.4L477.3 367.4Z"/><path d="M429.7 361.3L433.1 355.3L436.5 361.3Z"/><path d="M437.0 361.8L440.4 355.8L443.8 361.8Z"/><path d="M426.2 365.4L429.6 359.4L433.0 365.4Z"/><path d="M429.7 365.9L433.1 359.9L436.5 365.9Z"/><path d="M432.7 365.9L436.1 359.9L439.5 365.9Z"/><path d="M446.1 364.7L449.5 358.7L452.9 364.7Z"/><path d="M439.8 368.2L443.2 362.2L446.6 368.2Z"/><path d="M434.2 369.9L437.6 363.9L441.0 369.9Z"/><path d="M422.9 374.2L426.3 368.2L429.7 374.2Z"/><path d="M495.1 361.3L498.5 355.3L501.9 361.3Z"/><path d="M491.6 366.4L495.0 360.4L498.4 366.4Z"/><path d="M495.7 367.9L499.1 361.9L502.5 367.9Z"/><path d="M486.1 368.4L489.5 362.4L492.9 368.4Z"/><path d="M490.1 370.9L493.5 364.9L496.9 370.9Z"/><path d="M493.1 370.9L496.5 364.9L499.9 370.9Z"/><path d="M509.8 365.2L513.2 359.2L516.6 365.2Z"/><path d="M507.5 367.9L510.9 361.9L514.3 367.9Z"/><path d="M522.1 358.3L525.5 352.3L528.9 358.3Z"/><path d="M528.4 365.4L531.8 359.4L535.2 365.4Z"/><path d="M535.9 366.9L539.3 360.9L542.7 366.9Z"/><path d="M452.4 369.9L455.8 363.9L459.2 369.9Z"/><path d="M450.3 373.4L453.7 367.4L457.1 373.4Z"/><path d="M443.8 374.9L447.2 368.9L450.6 374.9Z"/><path d="M447.3 376.9L450.7 370.9L454.1 376.9Z"/><path d="M456.4 374.4L459.8 368.4L463.2 374.4Z"/><path d="M435.7 375.9L439.1 369.9L442.5 375.9Z"/><path d="M465.9 373.1L469.3 367.1L472.7 373.1Z"/><path d="M468.0 379.0L471.4 373.0L474.8 379.0Z"/><path d="M480.5 375.4L483.9 369.4L487.3 375.4Z"/><path d="M478.5 372.4L481.9 366.4L485.3 372.4Z"/><path d="M502.7 374.9L506.1 368.9L509.5 374.9Z"/><path d="M498.5 379.2L501.9 373.2L505.3 379.2Z"/><path d="M513.0 380.7L516.4 374.7L519.8 380.7Z"/><path d="M523.9 373.9L527.3 367.9L530.7 373.9Z"/><path d="M532.4 385.0L535.8 379.0L539.2 385.0Z"/><path d="M519.1 388.3L522.5 382.3L525.9 388.3Z"/><path d="M418.6 381.5L422.0 375.5L425.4 381.5Z"/><path d="M424.2 382.5L427.6 376.5L431.0 382.5Z"/><path d="M427.7 382.5L431.1 376.5L434.5 382.5Z"/><path d="M431.7 381.5L435.1 375.5L438.5 381.5Z"/><path d="M431.2 383.5L434.6 377.5L438.0 383.5Z"/><path d="M439.8 381.2L443.2 375.2L446.6 381.2Z"/><path d="M443.8 383.5L447.2 377.5L450.6 383.5Z"/><path d="M451.6 381.5L455.0 375.5L458.4 381.5Z"/><path d="M462.4 383.5L465.8 377.5L469.2 383.5Z"/><path d="M460.9 388.0L464.3 382.0L467.7 388.0Z"/><path d="M462.4 385.0L465.8 379.0L469.2 385.0Z"/><path d="M478.0 383.0L481.4 377.0L484.8 383.0Z"/><path d="M479.0 381.0L482.4 375.0L485.8 381.0Z"/><path d="M482.6 383.0L486.0 377.0L489.4 383.0Z"/><path d="M486.6 381.0L490.0 375.0L493.4 381.0Z"/><path d="M489.6 385.0L493.0 379.0L496.4 385.0Z"/><path d="M442.8 387.0L446.2 381.0L449.6 387.0Z"/><path d="M441.8 391.5L445.2 385.5L448.6 391.5Z"/><path d="M437.7 393.1L441.1 387.1L444.5 393.1Z"/><path d="M430.7 393.1L434.1 387.1L437.5 393.1Z"/><path d="M453.4 389.0L456.8 383.0L460.2 389.0Z"/><path d="M452.9 393.6L456.3 387.6L459.7 393.6Z"/><path d="M446.1 395.1L449.5 389.1L452.9 395.1Z"/><path d="M473.3 390.2L476.7 384.2L480.1 390.2Z"/><path d="M468.8 393.1L472.2 387.1L475.6 393.1Z"/><path d="M483.1 391.2L486.5 385.2L489.9 391.2Z"/><path d="M487.1 390.0L490.5 384.0L493.9 390.0Z"/><path d="M489.1 392.5L492.5 386.5L495.9 392.5Z"/><path d="M495.1 392.2L498.5 386.2L501.9 392.2Z"/><path d="M497.7 394.9L501.1 388.9L504.5 394.9Z"/><path d="M488.6 397.6L492.0 391.6L495.4 397.6Z"/><path d="M509.2 395.6L512.6 389.6L516.0 395.6Z"/><path d="M506.7 401.3L510.1 395.3L513.5 401.3Z"/><path d="M455.4 398.1L458.8 392.1L462.2 398.1Z"/><path d="M463.9 399.1L467.3 393.1L470.7 399.1Z"/><path d="M464.9 401.1L468.3 395.1L471.7 401.1Z"/><path d="M462.9 403.1L466.3 397.1L469.7 403.1Z"/><path d="M475.7 400.3L479.1 394.3L482.5 400.3Z"/><path d="M446.8 403.1L450.2 397.1L453.6 403.1Z"/><path d="M440.8 404.6L444.2 398.6L447.6 404.6Z"/><path d="M458.9 405.6L462.3 399.6L465.7 405.6Z"/><path d="M417.6 391.0L421.0 385.0L424.4 391.0Z"/><path d="M421.6 397.1L425.0 391.1L428.4 397.1Z"/><path d="M425.2 396.6L428.6 390.6L432.0 396.6Z"/><path d="M418.6 401.1L422.0 395.1L425.4 401.1Z"/><path d="M422.6 403.1L426.0 397.1L429.4 403.1Z"/><path d="M419.6 405.1L423.0 399.1L426.4 405.1Z"/><path d="M419.6 407.6L423.0 401.6L426.4 407.6Z"/><path d="M424.7 409.1L428.1 403.1L431.5 409.1Z"/><path d="M429.2 409.1L432.6 403.1L436.0 409.1Z"/><path d="M440.8 406.6L444.2 400.6L447.6 406.6Z"/><path d="M449.3 409.6L452.7 403.6L456.1 409.6Z"/><path d="M438.3 411.1L441.7 405.1L445.1 411.1Z"/><path d="M442.3 412.6L445.7 406.6L449.1 412.6Z"/><path d="M431.7 415.2L435.1 409.2L438.5 415.2Z"/><path d="M420.6 416.7L424.0 410.7L427.4 416.7Z"/><path d="M441.3 418.7L444.7 412.7L448.1 418.7Z"/><path d="M456.4 417.2L459.8 411.2L463.2 417.2Z"/><path d="M425.2 421.7L428.6 415.7L432.0 421.7Z"/><path d="M428.7 421.7L432.1 415.7L435.5 421.7Z"/><path d="M428.2 419.7L431.6 413.7L435.0 419.7Z"/><path d="M471.8 423.5L475.2 417.5L478.6 423.5Z"/><path d="M424.4 428.1L427.8 422.1L431.2 428.1Z"/><path d="M446.8 431.8L450.2 425.8L453.6 431.8Z"/><path d="M444.8 434.3L448.2 428.3L451.6 434.3Z"/><path d="M444.1 438.3L447.5 432.3L450.9 438.3Z"/><path d="M428.0 439.6L431.4 433.6L434.8 439.6Z"/><path d="M423.4 447.6L426.8 441.6L430.2 447.6Z"/><path d="M437.7 455.7L441.1 449.7L444.5 455.7Z"/><path d="M416.6 435.8L420.0 429.8L423.4 435.8Z"/><path d="M483.3 307.2L486.7 301.2L490.1 307.2Z"/><path d="M493.4 315.1L496.8 309.1L500.2 315.1Z"/><path d="M511.8 314.5L515.2 308.5L518.6 314.5Z"/><path d="M527.7 312.2L531.1 306.2L534.5 312.2Z"/><path d="M528.9 316.1L532.3 310.1L535.7 316.1Z"/><path d="M525.6 320.6L529.0 314.6L532.4 320.6Z"/><path d="M449.6 320.8L453.0 314.8L456.4 320.8Z"/><path d="M501.5 320.8L504.9 314.8L508.3 320.8Z"/><path d="M503.0 323.6L506.4 317.6L509.8 323.6Z"/><path d="M504.2 326.1L507.6 320.1L511.0 326.1Z"/><path d="M486.8 324.4L490.2 318.4L493.6 324.4Z"/><path d="M494.1 326.1L497.5 320.1L500.9 326.1Z"/><path d="M536.2 306.0L539.6 300.0L543.0 306.0Z"/><path d="M553.0 260.9L556.4 254.9L559.8 260.9Z"/><path d="M571.8 261.5L575.2 255.5L578.6 261.5Z"/><path d="M575.2 261.2L578.6 255.2L582.0 261.2Z"/><path d="M616.2 259.7L619.6 253.7L623.0 259.7Z"/><path d="M584.2 280.8L587.6 274.8L591.0 280.8Z"/><path d="M580.2 286.9L583.6 280.9L587.0 286.9Z"/><path d="M558.1 287.1L561.5 281.1L564.9 287.1Z"/><path d="M592.5 288.1L595.9 282.1L599.3 288.1Z"/><path d="M565.3 291.6L568.7 285.6L572.1 291.6Z"/><path d="M544.5 292.1L547.9 286.1L551.3 292.1Z"/><path d="M607.1 290.4L610.5 284.4L613.9 290.4Z"/><path d="M621.7 289.4L625.1 283.4L628.5 289.4Z"/><path d="M643.5 284.8L646.9 278.8L650.3 284.8Z"/><path d="M563.0 296.4L566.4 290.4L569.8 296.4Z"/><path d="M593.7 298.9L597.1 292.9L600.5 298.9Z"/><path d="M547.0 303.5L550.4 297.5L553.8 303.5Z"/><path d="M561.1 303.5L564.5 297.5L567.9 303.5Z"/><path d="M540.4 309.0L543.8 303.0L547.2 309.0Z"/><path d="M539.6 315.1L543.0 309.1L546.4 315.1Z"/><path d="M542.4 315.1L545.8 309.1L549.2 315.1Z"/><path d="M593.0 309.5L596.4 303.5L599.8 309.5Z"/><path d="M555.5 319.1L558.9 313.1L562.3 319.1Z"/><path d="M540.8 321.6L544.2 315.6L547.6 321.6Z"/><path d="M543.6 324.1L547.0 318.1L550.4 324.1Z"/><path d="M550.2 325.3L553.6 319.3L557.0 325.3Z"/><path d="M562.8 321.6L566.2 315.6L569.6 321.6Z"/><path d="M566.1 320.1L569.5 314.1L572.9 320.1Z"/><path d="M564.8 327.6L568.2 321.6L571.6 327.6Z"/><path d="M566.8 326.1L570.2 320.1L573.6 326.1Z"/><path d="M553.2 333.6L556.6 327.6L560.0 333.6Z"/><path d="M554.5 337.2L557.9 331.2L561.3 337.2Z"/><path d="M571.1 338.0L574.5 332.0L577.9 338.0Z"/><path d="M573.4 339.5L576.8 333.5L580.2 339.5Z"/><path d="M600.7 337.9L604.1 331.9L607.5 337.9Z"/><path d="M614.9 338.2L618.3 332.2L621.7 338.2Z"/><path d="M561.1 344.5L564.5 338.5L567.9 344.5Z"/><path d="M568.0 344.7L571.4 338.7L574.8 344.7Z"/><path d="M578.9 346.5L582.3 340.5L585.7 346.5Z"/><path d="M540.8 346.5L544.2 340.5L547.6 346.5Z"/><path d="M558.1 360.8L561.5 354.8L564.9 360.8Z"/><path d="M554.4 371.6L557.8 365.6L561.2 371.6Z"/><path d="M288.9 339.9L292.3 333.9L295.7 339.9Z"/><path d="M409.7 304.7L413.1 298.7L416.5 304.7Z"/><path d="M284.6 399.8L288.0 393.8L291.4 399.8Z"/><path d="M865.5 116.9L868.9 110.9L872.3 116.9Z"/><path d="M770.3 132.9L773.7 126.9L777.1 132.9Z"/><path d="M690.6 228.9L694.0 222.9L697.4 228.9Z"/><path d="M658.1 237.0L661.5 231.0L664.9 237.0Z"/><path d="M765.5 228.5L768.9 222.5L772.3 228.5Z"/><path d="M835.3 228.5L838.7 222.5L842.1 228.5Z"/><path d="M950.6 125.6L954.0 119.6L957.4 125.6Z"/><path d="M978.1 173.8L981.5 167.8L984.9 173.8Z"/><path d="M650.0 249.1L653.4 243.1L656.8 249.1Z"/><path d="M705.1 249.2L708.5 243.2L711.9 249.2Z"/><path d="M711.1 253.2L714.5 247.2L717.9 253.2Z"/><path d="M672.8 262.9L676.2 256.9L679.6 262.9Z"/><path d="M666.0 288.6L669.4 282.6L672.8 288.6Z"/><path d="M753.0 286.4L756.4 280.4L759.8 286.4Z"/><path d="M705.1 303.1L708.5 297.1L711.9 303.1Z"/><path d="M774.9 312.6L778.3 306.6L781.7 312.6Z"/><path d="M665.6 320.8L669.0 314.8L672.4 320.8Z"/><path d="M730.6 351.0L734.0 345.0L737.4 351.0Z"/><path d="M659.8 374.2L663.2 368.2L666.6 374.2Z"/><path d="M599.0 428.5L602.4 422.5L605.8 428.5Z"/><path d="M300.6 448.9L304.0 442.9L307.4 448.9Z"/><path d="M305.7 450.9L309.1 444.9L312.5 450.9Z"/><path d="M302.6 455.9L306.0 449.9L309.4 455.9Z"/><path d="M309.7 459.0L313.1 453.0L316.5 459.0Z"/><path d="M300.6 465.0L304.0 459.0L307.4 465.0Z"/><path d="M305.7 468.0L309.1 462.0L312.5 468.0Z"/><path d="M311.7 467.0L315.1 461.0L318.5 467.0Z"/><path d="M314.7 457.0L318.1 451.0L321.5 457.0Z"/><path d="M318.8 460.0L322.2 454.0L325.6 460.0Z"/><path d="M323.8 453.9L327.2 447.9L330.6 453.9Z"/><path d="M326.8 457.0L330.2 451.0L333.6 457.0Z"/><path d="M324.8 463.0L328.2 457.0L331.6 463.0Z"/><path d="M319.8 468.0L323.2 462.0L326.6 468.0Z"/><path d="M314.7 471.1L318.1 465.1L321.5 471.1Z"/><path d="M302.6 477.1L306.0 471.1L309.4 477.1Z"/><path d="M307.7 481.1L311.1 475.1L314.5 481.1Z"/><path d="M313.7 477.1L317.1 471.1L320.5 477.1Z"/><path d="M316.7 481.1L320.1 475.1L323.5 481.1Z"/><path d="M323.8 469.0L327.2 463.0L330.6 469.0Z"/><path d="M328.8 469.0L332.2 463.0L335.6 469.0Z"/><path d="M334.9 468.0L338.3 462.0L341.7 468.0Z"/><path d="M327.8 476.1L331.2 470.1L334.6 476.1Z"/><path d="M323.8 481.1L327.2 475.1L330.6 481.1Z"/><path d="M334.9 472.1L338.3 466.1L341.7 472.1Z"/><path d="M338.9 463.0L342.3 457.0L345.7 463.0Z"/><path d="M341.9 459.0L345.3 453.0L348.7 459.0Z"/><path d="M333.9 450.9L337.3 444.9L340.7 450.9Z"/><path d="M338.9 449.9L342.3 443.9L345.7 449.9Z"/><path d="M342.9 451.9L346.3 445.9L349.7 451.9Z"/><path d="M326.8 449.9L330.2 443.9L333.6 449.9Z"/><path d="M320.8 450.9L324.2 444.9L327.6 450.9Z"/><path d="M316.7 453.9L320.1 447.9L323.5 453.9Z"/><path d="M344.9 426.7L348.3 420.7L351.7 426.7Z"/><path d="M350.0 426.7L353.4 420.7L356.8 426.7Z"/><path d="M353.0 425.7L356.4 419.7L359.8 425.7Z"/><path d="M349.0 432.8L352.4 426.8L355.8 432.8Z"/><path d="M353.0 434.8L356.4 428.8L359.8 434.8Z"/><path d="M358.0 430.8L361.4 424.8L364.8 430.8Z"/><path d="M344.9 432.8L348.3 426.8L351.7 432.8Z"/><path d="M359.0 434.8L362.4 428.8L365.8 434.8Z"/><path d="M362.1 436.8L365.5 430.8L368.9 436.8Z"/><path d="M353.0 438.8L356.4 432.8L359.8 438.8Z"/><path d="M349.0 440.8L352.4 434.8L355.8 440.8Z"/><path d="M343.9 439.8L347.3 433.8L350.7 439.8Z"/><path d="M357.0 441.8L360.4 435.8L363.8 441.8Z"/><path d="M360.0 442.9L363.4 436.9L366.8 442.9Z"/><path d="M373.1 416.7L376.5 410.7L379.9 416.7Z"/><path d="M376.2 417.7L379.6 411.7L383.0 417.7Z"/><path d="M374.1 420.7L377.5 414.7L380.9 420.7Z"/><path d="M371.1 422.7L374.5 416.7L377.9 422.7Z"/><path d="M376.2 424.7L379.6 418.7L383.0 424.7Z"/><path d="M373.1 426.7L376.5 420.7L379.9 426.7Z"/><path d="M379.2 418.7L382.6 412.7L386.0 418.7Z"/><path d="M359.0 446.9L362.4 440.9L365.8 446.9Z"/><path d="M363.1 446.9L366.5 440.9L369.9 446.9Z"/><path d="M362.1 450.9L365.5 444.9L368.9 450.9Z"/><path d="M366.1 448.9L369.5 442.9L372.9 448.9Z"/><path d="M364.1 442.9L367.5 436.9L370.9 442.9Z"/><path d="M358.0 443.4L361.4 437.4L364.8 443.4Z"/><path d="M401.3 410.6L404.7 404.6L408.1 410.6Z"/><path d="M406.4 411.6L409.8 405.6L413.2 411.6Z"/><path d="M402.3 415.7L405.7 409.7L409.1 415.7Z"/><path d="M407.4 415.7L410.8 409.7L414.2 415.7Z"/><path d="M397.3 415.7L400.7 409.7L404.1 415.7Z"/><path d="M385.2 426.7L388.6 420.7L392.0 426.7Z"/><path d="M387.2 429.8L390.6 423.8L394.0 429.8Z"/><path d="M383.2 431.8L386.6 425.8L390.0 431.8Z"/><path d="M391.3 425.7L394.7 419.7L398.1 425.7Z"/><path d="M396.3 422.7L399.7 416.7L403.1 422.7Z"/><path d="M397.3 426.7L400.7 420.7L404.1 426.7Z"/><path d="M387.2 433.8L390.6 427.8L394.0 433.8Z"/><path d="M405.4 386.0L408.8 380.0L412.2 386.0Z"/><path d="M409.4 388.0L412.8 382.0L416.2 388.0Z"/><path d="M413.4 386.0L416.8 380.0L420.2 386.0Z"/><path d="M406.4 393.1L409.8 387.1L413.2 393.1Z"/><path d="M410.4 394.1L413.8 388.1L417.2 394.1Z"/><path d="M414.4 391.0L417.8 385.0L421.2 391.0Z"/><path d="M409.4 399.1L412.8 393.1L416.2 399.1Z"/><path d="M413.4 400.1L416.8 394.1L420.2 400.1Z"/><path d="M415.4 386.0L418.8 380.0L422.2 386.0Z"/><path d="M403.3 401.1L406.7 395.1L410.1 401.1Z"/><path d="M289.5 482.4L292.9 476.4L296.3 482.4Z"/><path d="M277.1 492.1L280.5 486.1L283.9 492.1Z"/><path d="M299.9 467.1L303.3 461.1L306.7 467.1Z"/><path d="M298.5 472.2L301.9 466.2L305.3 472.2Z"/><path d="M275.4 479.3L278.8 473.3L282.2 479.3Z"/><path d="M278.0 482.4L281.4 476.4L284.8 482.4Z"/><path d="M294.4 474.3L297.8 468.3L301.2 474.3Z"/><path d="M284.5 473.4L287.9 467.4L291.3 473.4Z"/><path d="M304.3 477.9L307.7 471.9L311.1 477.9Z"/><path d="M293.0 469.0L296.4 463.0L299.8 469.0Z"/><path d="M321.4 474.5L324.8 468.5L328.2 474.5Z"/><path d="M287.8 480.8L291.2 474.8L294.6 480.8Z"/><path d="M280.7 485.3L284.1 479.3L287.5 485.3Z"/><path d="M313.6 466.9L317.0 460.9L320.4 466.9Z"/><path d="M282.5 467.4L285.9 461.4L289.3 467.4Z"/><path d="M291.8 467.2L295.2 461.2L298.6 467.2Z"/><path d="M300.4 471.7L303.8 465.7L307.2 471.7Z"/><path d="M283.7 479.1L287.1 473.1L290.5 479.1Z"/><path d="M306.9 458.3L310.3 452.3L313.7 458.3Z"/><path d="M302.3 471.3L305.7 465.3L309.1 471.3Z"/><path d="M295.8 466.4L299.2 460.4L302.6 466.4Z"/><path d="M307.9 480.0L311.3 474.0L314.7 480.0Z"/><path d="M285.6 467.1L289.0 461.1L292.4 467.1Z"/><path d="M316.5 455.2L319.9 449.2L323.3 455.2Z"/><path d="M309.3 458.0L312.7 452.0L316.1 458.0Z"/><path d="M279.4 504.8L282.8 498.8L286.2 504.8Z"/><path d="M294.1 472.5L297.5 466.5L300.9 472.5Z"/><path d="M297.6 465.2L301.0 459.2L304.4 465.2Z"/><path d="M275.5 474.8L278.9 468.8L282.3 474.8Z"/><path d="M301.7 454.8L305.1 448.8L308.5 454.8Z"/><path d="M316.5 454.7L319.9 448.7L323.3 454.7Z"/><path d="M302.7 480.4L306.1 474.4L309.5 480.4Z"/><path d="M302.0 451.4L305.4 445.4L308.8 451.4Z"/><path d="M319.9 462.9L323.3 456.9L326.7 462.9Z"/><path d="M296.8 469.2L300.2 463.2L303.6 469.2Z"/><path d="M308.0 462.0L311.4 456.0L314.8 462.0Z"/><path d="M305.3 482.9L308.7 476.9L312.1 482.9Z"/><path d="M287.5 475.1L290.9 469.1L294.3 475.1Z"/><path d="M414.0 388.6L417.4 382.6L420.8 388.6Z"/><path d="M414.3 394.8L417.7 388.8L421.1 394.8Z"/><path d="M415.3 395.7L418.7 389.7L422.1 395.7Z"/><path d="M415.4 396.7L418.8 390.7L422.2 396.7Z"/><path d="M418.1 397.5L421.5 391.5L424.9 397.5Z"/><path d="M410.6 398.9L414.0 392.9L417.4 398.9Z"/><path d="M405.7 406.5L409.1 400.5L412.5 406.5Z"/><path d="M404.6 397.1L408.0 391.1L411.4 397.1Z"/><path d="M426.2 399.6L429.6 393.6L433.0 399.6Z"/><path d="M417.8 395.5L421.2 389.5L424.6 395.5Z"/><path d="M407.2 408.9L410.6 402.9L414.0 408.9Z"/><path d="M405.0 404.6L408.4 398.6L411.8 404.6Z"/><path d="M408.0 402.5L411.4 396.5L414.8 402.5Z"/><path d="M414.3 400.2L417.7 394.2L421.1 400.2Z"/></g>
<line x1="137.1" y1="554.8" x2="987.0" y2="93.1" stroke="#333333" stroke-width="1.6"/>
<line x1="137.29999999999998" y1="84.96000000000001" x2="137.29999999999998" y2="650.63" stroke="#333333" stroke-width="1.55"/>
<line x1="136.29999999999998" y1="649.83" x2="987.6" y2="649.83" stroke="#333333" stroke-width="1.6"/>
<line x1="1008.9" y1="95.4" x2="1051" y2="95.4" stroke="#333333" stroke-width="1.45"/>
</svg>
<div id="txt" style="position:absolute;left:0;top:0;width:1200px;height:775px;will-change:transform;">
<div class="title" id="title">Aboveground Biomass Density (Mg/Ha)</div>
<div class="yl" style="top:638.5px">0</div>
<div class="yl" style="top:558.1px">50</div>
<div class="yl" style="top:477.6px">100</div>
<div class="yl" style="top:397.3px">150</div>
<div class="yl" style="top:315.6px">200</div>
<div class="yl" style="top:235.1px">250</div>
<div class="yl" style="top:154.6px">300</div>
<div class="yl" style="top:74.3px">350</div>
<div class="xl" style="left:97.1px">0</div>
<div class="xl" style="left:267.1px">100</div>
<div class="xl" style="left:437.1px">200</div>
<div class="xl" style="left:607.0px">300</div>
<div class="xl" style="left:777.0px">400</div>
<div class="xl" style="left:947.0px">500</div>
<div class="xt" id="xt">Observed</div>
<div class="yt" id="yt">Predicted</div>
<div class="lg" id="lg">Linear Fit<br>r^2 = 0.842</div>
</div>
</body></html>
